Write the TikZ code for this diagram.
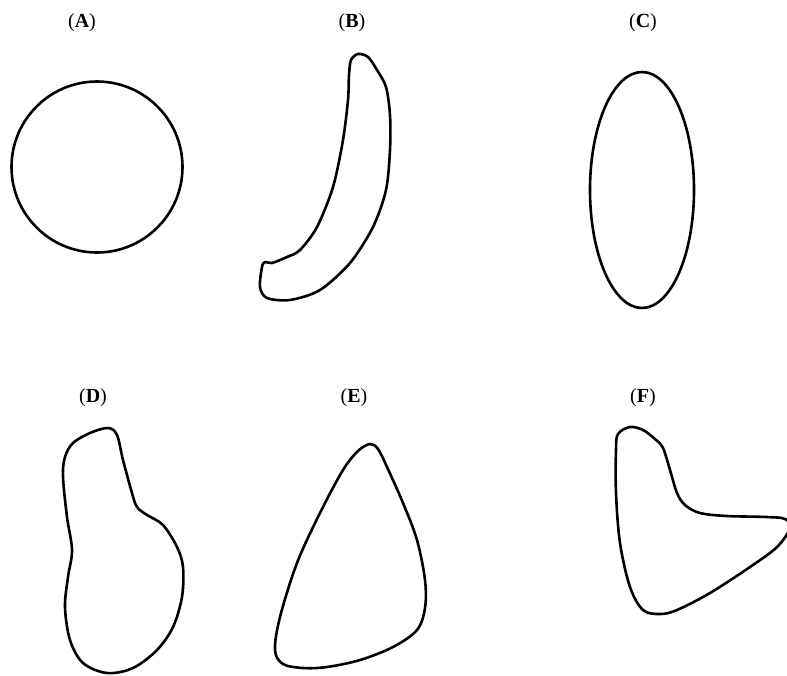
\documentclass[tikz,border=0pt]{standalone}
\usepackage{fontspec}
\setmainfont{Liberation Serif}
\usetikzlibrary{positioning}
\tikzset{
  outline/.style={line width=2.6pt,draw=black,line join=round},
  panel/.style={font=\fontsize{20}{24}\selectfont,inner sep=0pt}
}

\begin{document}
\begin{tikzpicture}[x=1pt,y=-1pt]
  \useasboundingbox (0,0) rectangle (787,675);
  \clip (0,0) rectangle (787,675);
  % panel labels
  \node[panel] (labA) at (82,23) {(\textbf{A})};
  \node[panel] (labB) at (352,23) {(\textbf{B})};
  \node[panel] (labC) at (643,23) {(\textbf{C})};
  \node[panel] (labD) at (93,398) {(\textbf{D})};
  \node[panel] (labE) at (354,398) {(\textbf{E})};
  \node[panel] (labF) at (643,398) {(\textbf{F})};
  % A: circle
  \draw[outline] (97,167) circle[radius=85.5pt];
  % B: banana
  \draw[outline] plot[smooth cycle,tension=0.5] coordinates {
    (351,60) (358,54) (368,57) (377,70) (386,87) (390,115) (390,150) (386,190) (373,227)
    (350,263) (320,290) (290,300) (267,298) (260,287) (262,267) (265,262)
    (272,263) (287,257) (300,250) (317,227) (333,187) (343,140) (348,100) (349,75)};
  % C: ellipse
  \draw[outline] (642,190) ellipse[x radius=52pt,y radius=118pt];
  % D
  \draw[outline] plot[smooth cycle,tension=0.55] coordinates {
    (108,428) (90,433) (73,443) (65,457) (63,477) (67,517) (72,550) (68,577)
    (65,607) (70,640) (83,663) (107,673) (133,668) (157,650) (173,627)
    (182,597) (183,567) (177,547) (163,525) (147,515) (137,507) (132,493)
    (123,460) (117,435)};
  % E
  \draw[outline] plot[smooth cycle,tension=0.55] coordinates {
    (370,444) (358,451) (343,470) (320,513) (297,563) (280,617) (275,650) (283,664)
    (303,668) (327,667) (360,660) (393,647) (417,630) (425,608) (425,580)
    (417,540) (403,503) (387,467) (378,449)};
  % F
  \draw[outline] plot[smooth cycle,tension=0.55] coordinates {
    (630,427) (618,434) (616,450) (616,493) (620,543) (630,587) (643,610)
    (660,614) (677,610) (710,593) (750,567) (777,547) (790,528) (785,519)
    (767,517) (727,516) (700,513) (685,505) (677,493) (670,470) (663,448)
    (655,439) (643,430)};
\end{tikzpicture}
\end{document}
